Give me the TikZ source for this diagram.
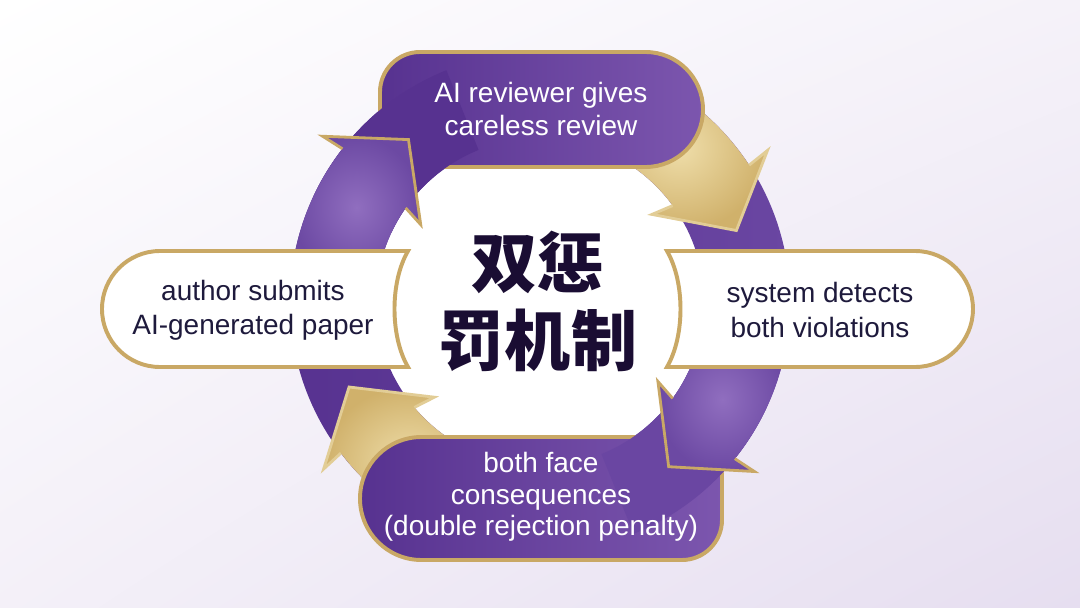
\documentclass[tikz,border=0pt]{standalone}
\usepackage{fontspec}
\usetikzlibrary{shadings}
\setmainfont{Liberation Sans}
\newfontfamily\cjkfont{Noto Sans CJK SC}
\definecolor{ringpurple}{HTML}{573290}
\definecolor{ringright}{HTML}{6A46A2}
\definecolor{purplelight}{HTML}{906EBF}
\definecolor{purplemid}{HTML}{6C49A3}
\definecolor{pillright}{HTML}{7C56AE}
\definecolor{golddark}{HTML}{D0B16B}
\definecolor{goldlight}{HTML}{EFDEAA}
\definecolor{goldedge}{HTML}{C9A865}
\definecolor{goldrim}{HTML}{E2CD96}
\definecolor{navytext}{HTML}{1E1A3C}
\definecolor{cjkink}{HTML}{1A0D33}
\definecolor{bglav}{HTML}{E6DEF0}
\newcommand{\ringarrow}[4]{%
  \begin{scope}[rotate=#1]
    \path[#3] (16:164) -- (135.2,44) -- (209,0) -- (265.6,64.6) -- (13.2:250)
      arc[start angle=13.2, end angle=#2, radius=250] -- (#2:164)
      arc[start angle=#2, end angle=16, radius=164] -- cycle;
    \draw[#4, line width=2pt, line join=miter] (16:164) -- (135.2,44) -- (209,0) -- (265.6,64.6) -- (13.2:250);
  \end{scope}}

\begin{document}
\begin{tikzpicture}[x=0.025cm, y=0.025cm,
    pillpurple/.style={draw=goldedge, line width=2.8pt, left color=ringpurple, right color=pillright},
    pillwhite/.style={draw=goldedge, line width=2.8pt, fill=white},
    pilltext/.style={inner sep=0pt, align=center, font=\fontsize{19.9}{24.2}\selectfont}]
        \useasboundingbox (-540,-305) rectangle (540,302);
        \shade[upper left=white, upper right=white!60!bglav, lower left=white!55!bglav, lower right=bglav] (-540,-305) rectangle (540,302);
        \fill[white] (0,0) circle[radius=166];
        \shade[even odd rule, left color=ringpurple, right color=ringright] (0,0) circle[radius=250] circle[radius=164];
        \ringarrow{20}{52}{inner color=goldlight, outer color=golddark}{goldrim}
        \ringarrow{204}{50}{inner color=goldlight, outer color=golddark}{goldrim}
        \path[pillpurple] (-120,250) -- (105.5,250) arc[start angle=90, end angle=-90, radius=57.5] -- (-120,135) arc[start angle=270, end angle=180, radius=40] -- (-160,210) arc[start angle=180, end angle=90, radius=40] -- cycle;
        \path[pillpurple] (-118.5,-135) -- (142,-135) arc[start angle=90, end angle=0, radius=40] -- (182,-218) arc[start angle=0, end angle=-90, radius=40] -- (-118.5,-258) arc[start angle=270, end angle=90, radius=61.5] -- cycle;
        \fill[ringpurple] (112:164) -- (112:250) arc[start angle=112, end angle=155, radius=250] -- (155:164) arc[start angle=155, end angle=112, radius=164] -- cycle;
        \fill[ringright] (-68:164) -- (-68:250) arc[start angle=-68, end angle=-25, radius=250] -- (-25:164) arc[start angle=-25, end angle=-68, radius=164] -- cycle;
        \ringarrow{129}{43}{inner color=purplelight, outer color=purplemid}{goldedge}
        \ringarrow{-52}{43}{inner color=purplelight, outer color=purplemid}{goldedge}
        \path[pillwhite] (-380,51) -- (-132,51) .. controls (-150,20) and (-150,-34) .. (-132,-65) -- (-380,-65) arc[start angle=270, end angle=90, radius=58] -- cycle;
        \path[pillwhite] (127,51) -- (375,51) arc[start angle=90, end angle=-90, radius=58] -- (127,-65) .. controls (145,-34) and (145,20) .. (127,51) -- cycle;
        \node[pilltext, text=white, font=\fontsize{19.9}{22.8}\selectfont] (review) at (1,193) {AI reviewer gives\\careless review};
        \node[pilltext, text=navytext] (submit) at (-287,-8) {author submits\\AI-generated paper};
        \node[pilltext, text=navytext] (detect) at (280,-8) {system detects\\both violations};
        \node[pilltext, text=white, font=\fontsize{19.9}{22.4}\selectfont] (penalty) at (1,-195) {both face\\consequences\\(double rejection penalty)};
        \node[inner sep=0pt, align=center, text=cjkink, font=\cjkfont\bfseries\fontsize{47}{55.5}\selectfont] (mechanism) at (-2,1) {双惩\\罚机制};
\end{tikzpicture}
\end{document}
